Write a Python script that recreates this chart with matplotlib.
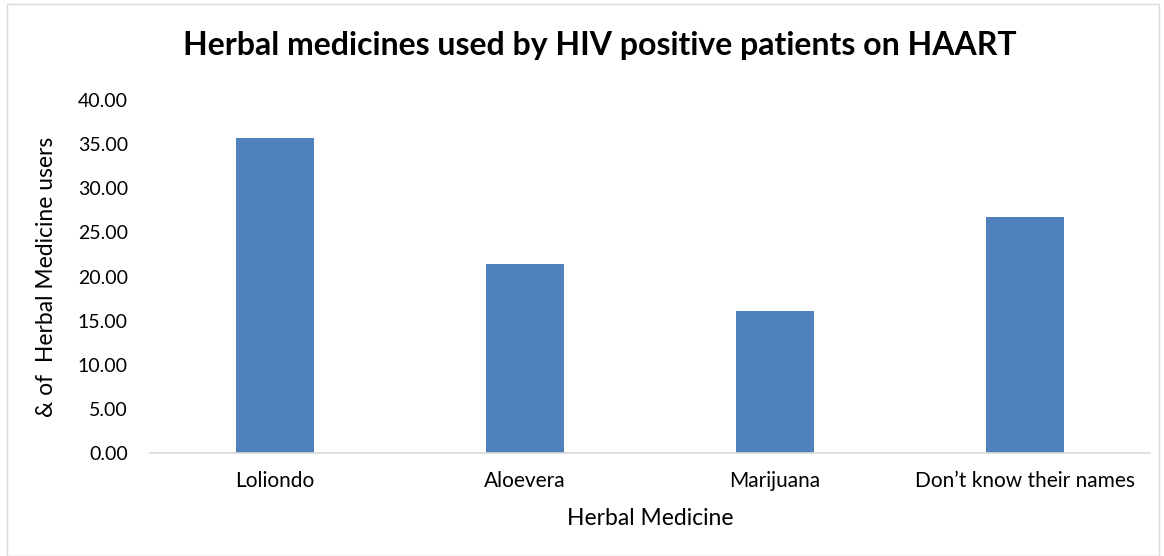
import matplotlib.pyplot as plt
from matplotlib.patches import Rectangle

plt.rcParams['font.family'] = ['Lato', 'DejaVu Sans']

categories = ["Loliondo", "Aloevera", "Marijuana", "Don\u2019t know their names"]
percent = [35.71, 21.43, 16.07, 26.79]
yticks = [0, 5, 10, 15, 20, 25, 30, 35, 40]

fig = plt.figure(figsize=(11.64, 5.56), dpi=100)
ax = fig.add_axes([150 / 1164, 103 / 556, 1000 / 1164, 353 / 556])

x = range(len(categories))
ax.bar(x, percent, width=0.31, color="#4f81bd")

ax.set_xlim(-0.5, len(categories) - 0.5)
ax.set_ylim(0, 40)
ax.set_yticks(yticks)
ax.set_yticklabels([f"{v:.2f}" for v in yticks], fontsize=14)
ax.set_xticks(list(x))
ax.set_xticklabels(categories, fontsize=15)
ax.tick_params(length=0)
ax.tick_params(axis="y", pad=16)
ax.tick_params(axis="x", pad=13)

for s in ["top", "right", "left"]:
    ax.spines[s].set_visible(False)
ax.spines["bottom"].set_color("#d9d9d9")
ax.spines["bottom"].set_linewidth(1.2)

ax.set_xlabel("Herbal Medicine", fontsize=16.5, labelpad=12)
ax.set_ylabel("& of  Herbal Medicine users", fontsize=16.5, labelpad=15)

fig.text(600 / 1164, 0.918, "Herbal medicines used by HIV positive patients on HAART",
         ha="center", va="center", fontsize=23, fontweight="bold")

fig.patches.append(Rectangle((7 / 1164, 0), 1152 / 1164, 552 / 556,
                             transform=fig.transFigure, fill=False,
                             edgecolor="#d9d9d9", linewidth=1))

fig.savefig("out.png", dpi=100)
